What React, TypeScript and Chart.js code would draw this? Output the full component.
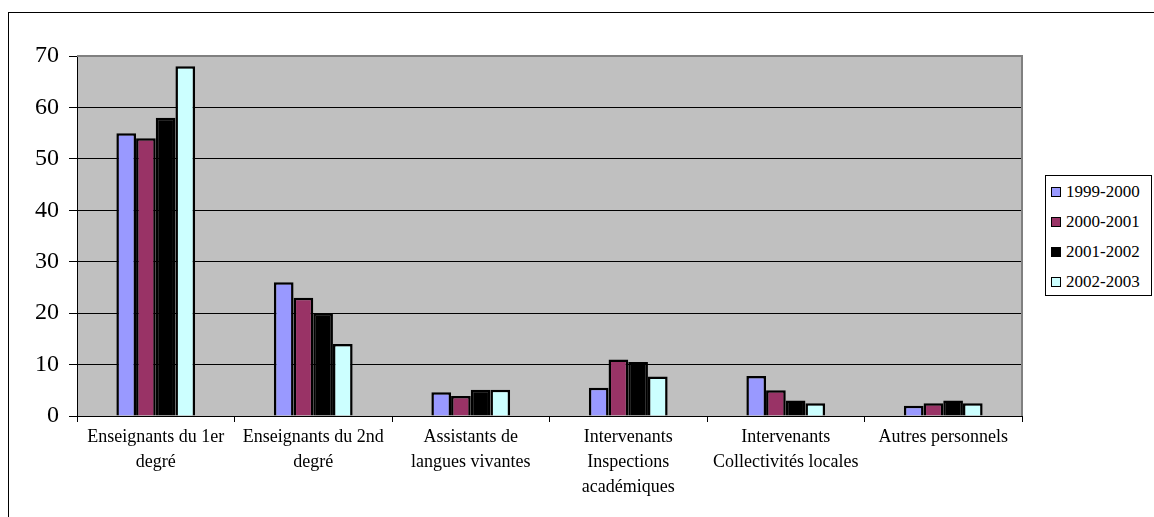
import React, { useEffect, useRef } from "react";
import { Chart, registerables } from "chart.js";

Chart.register(...registerables);

const categories: (string | string[])[] = [
  ["Enseignants du 1er", "degré"],
  ["Enseignants du 2nd", "degré"],
  ["Assistants de", "langues vivantes"],
  ["Intervenants", "Inspections", "académiques"],
  ["Intervenants", "Collectivités locales"],
  "Autres personnels",
];

const seriesNames = ["1999-2000", "2000-2001", "2001-2002", "2002-2003"];
const seriesColors = ["#9999FF", "#993366", "#000000", "#CCFFFF"];

const s1999 = [55, 26, 4.6, 5.5, 7.8, 2.0];
const s2000 = [54, 23, 3.9, 11, 5.0, 2.5];
const s2001 = [58, 20, 5.1, 10.5, 3.0, 3.0];
const s2002 = [68, 14, 5.1, 7.7, 2.5, 2.5];
const seriesValues = [s1999, s2000, s2001, s2002];

const yTicks = [0, 10, 20, 30, 40, 50, 60, 70];

const FONT = "'Liberation Serif', 'Times New Roman', serif";
const CANVAS_W = 1140;
const CANVAS_H = 490;

const plotFrame = {
  id: "plotFrame",
  beforeDraw(chart: any) {
    const { ctx, chartArea: a } = chart;
    ctx.save();
    ctx.fillStyle = "#C0C0C0";
    ctx.fillRect(a.left, a.top, a.right - a.left, a.bottom - a.top);
    ctx.restore();
  },
  afterDatasetsDraw(chart: any) {
    const { ctx, chartArea: a } = chart;
    ctx.save();
    ctx.strokeStyle = "#808080";
    ctx.lineWidth = 2;
    ctx.beginPath();
    ctx.moveTo(a.left, a.top);
    ctx.lineTo(a.right, a.top);
    ctx.lineTo(a.right, a.bottom);
    ctx.stroke();
    ctx.restore();
  },
};

export default function App() {
  const ref = useRef<HTMLCanvasElement>(null);

  useEffect(() => {
    if (!ref.current) return;
    const chart = new Chart(ref.current, {
      type: "bar",
      data: {
        labels: categories,
        datasets: seriesNames.map((name, i) => ({
          label: name,
          data: seriesValues[i],
          backgroundColor: seriesColors[i],
          borderColor: "#000000",
          borderWidth: 2.5,
          categoryPercentage: 0.5,
          barPercentage: 1.0,
        })),
      },
      options: {
        animation: false,
        responsive: false,
        maintainAspectRatio: false,
        layout: { padding: { top: 43, right: 127, left: 0, bottom: 0 } },
        plugins: {
          legend: { display: false },
          tooltip: { enabled: false },
        },
        scales: {
          x: {
            offset: true,
            grid: {
              offset: true,
              drawOnChartArea: false,
              color: "#000000",
              tickLength: 6,
            },
            border: { color: "#000000", width: 1 },
            ticks: {
              color: "#000000",
              font: { family: FONT, size: 18, lineHeight: 1.38 },
              padding: 3,
              maxRotation: 0,
              autoSkip: false,
            },
            afterFit(scale: any) {
              scale.height = CANVAS_H - 403;
            },
          },
          y: {
            min: 0,
            max: 70,
            afterBuildTicks(scale: any) {
              scale.ticks = yTicks.map((v) => ({ value: v }));
            },
            grid: {
              color: "#000000",
              lineWidth: 1,
              tickLength: 8,
              tickColor: "#000000",
            },
            border: { color: "#000000", width: 1 },
            ticks: {
              color: "#000000",
              font: { family: FONT, size: 24 },
              padding: 10,
            },
            afterFit(scale: any) {
              scale.width = 68;
            },
          },
        },
      },
      plugins: [plotFrame],
    });
    return () => chart.destroy();
  }, []);

  return (
    <div
      style={{
        position: "fixed",
        left: 8,
        top: 12,
        width: 1200,
        height: 560,
        boxSizing: "border-box",
        borderTop: "1px solid #000",
        borderLeft: "1px solid #000",
      }}
    >
      <canvas
        ref={ref}
        width={CANVAS_W}
        height={CANVAS_H}
        style={{ position: "absolute", left: 0, top: 0, width: CANVAS_W, height: CANVAS_H }}
      />
      <div
        style={{
          position: "absolute",
          left: 1036,
          top: 162,
          width: 107,
          height: 121,
          boxSizing: "border-box",
          border: "1px solid #000",
          background: "#fff",
          paddingTop: 1,
          fontFamily: FONT,
          fontSize: 17,
        }}
      >
        {seriesNames.map((name, i) => (
          <div
            key={name}
            style={{ display: "flex", alignItems: "center", height: 30, whiteSpace: "nowrap" }}
          >
            <span
              style={{
                display: "inline-block",
                width: 8,
                height: 8,
                marginLeft: 5,
                marginRight: 5,
                border: "1.5px solid #000",
                background: seriesColors[i],
              }}
            />
            <span>{name}</span>
          </div>
        ))}
      </div>
    </div>
  );
}
